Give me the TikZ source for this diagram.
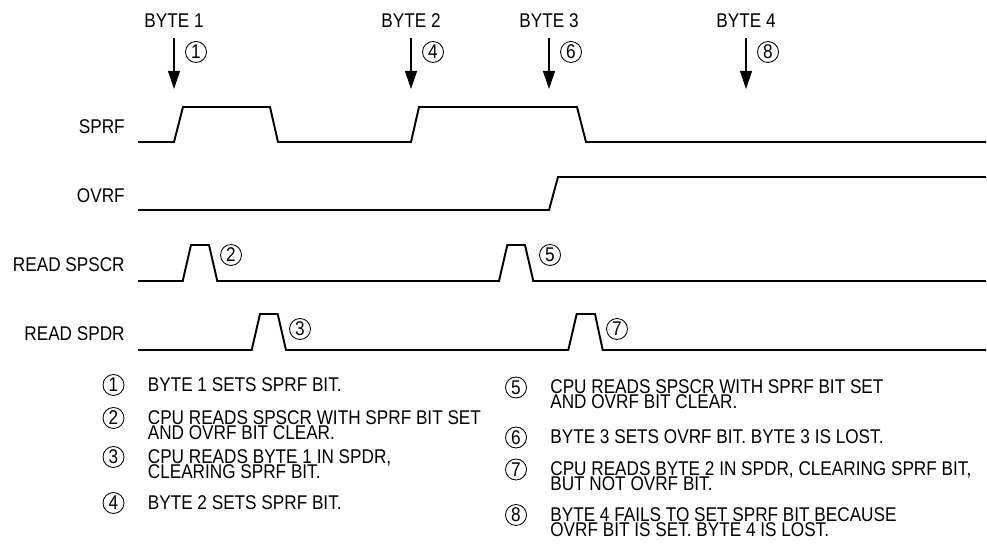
\documentclass[tikz,border=0pt]{standalone}
\usepackage{fontspec}
\setmainfont{Liberation Sans}[FakeStretch=0.865]
\usetikzlibrary{arrows.meta}
\setlength{\lineskiplimit}{-10pt}
\tikzset{
  every picture/.style={font=\fontsize{11.3}{8.7}\selectfont},
  wave/.style={draw=black,line width=1.1pt,line join=miter},
  byteflow/.style={-{Triangle[length=3.6mm,width=2.4mm]},draw=black,line width=.6pt,shorten <=2mm},
  numcirc/.style={circle,draw=black,line width=.5pt,inner sep=0pt,minimum size=4.2mm},
  bytelabel/.style={inner sep=0pt},
  siglabel/.style={inner sep=0pt,anchor=east},
  notetext/.style={inner sep=0pt,anchor=north west,align=left},
}
\begin{document}
\begin{tikzpicture}[x=.2mm,y=-.2mm]
  \useasboundingbox (0,0) rectangle (987,554);
  % byte arrivals along the top, each with its event number
  \foreach \name/\x/\txt/\num in {b1/174/BYTE 1/1,b2/411/BYTE 2/4,b3/549/BYTE 3/6,b4/746/BYTE 4/8} {
    \node[bytelabel] (\name) at (\x,21) {\txt};
    \coordinate (\name-tip) at (\x,89);
    \draw[byteflow] (\name.south) -- (\name-tip);
    \node[numcirc] (\name-num) at (\x+22,52) {\num};
  }

  % signal names, right aligned
  \node[siglabel] (sprf) at (125,126.5) {SPRF};
  \node[siglabel] (ovrf) at (125,195.5) {OVRF};
  \node[siglabel] (spscr) at (125,265) {READ SPSCR};
  \node[siglabel] (spdr) at (125,334) {READ SPDR};

  % waveforms
  \draw[wave] (138,142) -- (174,142) -- (183,107) -- (270,107) -- (278,142) -- (411,142) -- (419,107) -- (577,107) -- (586,142) -- (986,142);
  \draw[wave] (138,210) -- (549,210) -- (558,177) -- (986,177);
  \draw[wave] (138,281) -- (182.7,281) -- (191,245) -- (209,245) -- (217.3,281) -- (499,281) -- (507.3,245) -- (525,245) -- (533.3,281) -- (986,281);
  \draw[wave] (138,350) -- (251.7,350) -- (260,314) -- (277.7,314) -- (286,350) -- (568.3,350) -- (576.7,314) -- (595,314) -- (602.7,350) -- (986,350);
  \node[numcirc] (n2) at (231,255) {2};
  \node[numcirc] (n5) at (550,255) {5};
  \node[numcirc] (n3) at (300,329) {3};
  \node[numcirc] (n7) at (617,329) {7};

  % legend in two columns (y = middle of the first text line)
  \foreach \n/\cx/\ty/\txt in {
      1/113.5/384/{BYTE 1 SETS SPRF BIT.},
      2/113.5/417/{CPU READS SPSCR WITH SPRF BIT SET\\AND OVRF BIT CLEAR.},
      3/113.5/456/{CPU READS BYTE 1 IN SPDR,\\CLEARING SPRF BIT.},
      4/113.5/502/{BYTE 2 SETS SPRF BIT.},
      5/516/386.5/{CPU READS SPSCR WITH SPRF BIT SET\\AND OVRF BIT CLEAR.},
      6/516/436.5/{BYTE 3 SETS OVRF BIT. BYTE 3 IS LOST.},
      7/516/468.5/{CPU READS BYTE 2 IN SPDR, CLEARING SPRF BIT,\\BUT NOT OVRF BIT.},
      8/516/514/{BYTE 4 FAILS TO SET SPRF BIT BECAUSE\\OVRF BIT IS SET. BYTE 4 IS LOST.}} {
    \node[numcirc] (note\n) at (\cx,\ty+1) {\n};
    \node[notetext] (notetext\n) at (\cx+34,\ty-7.2) {\txt};
  }
\end{tikzpicture}
\end{document}
